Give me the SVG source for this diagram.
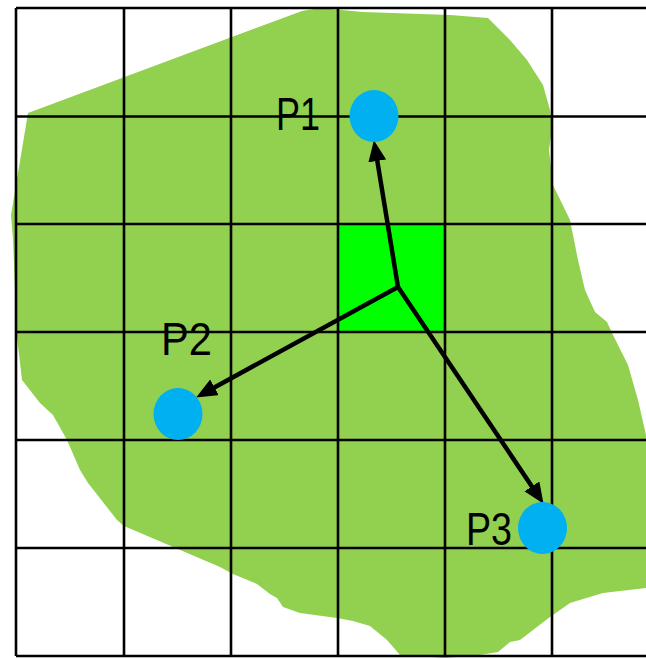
<svg xmlns="http://www.w3.org/2000/svg" width="646" height="659" viewBox="0 0 646 659">
  <style>
    .grid line { stroke: #000; stroke-width: 2.6; }
    .arrow { stroke: #000; stroke-width: 4.5; stroke-linecap: round; fill: none; marker-end: url(#ah); }
    .pt { fill: #00B0F0; }
    .lbl { font-family: "Liberation Sans", Arial, sans-serif; font-size: 46px; fill: #000; }
  </style>
  <defs>
    <marker id="ah" markerUnits="userSpaceOnUse" markerWidth="22" markerHeight="18" viewBox="0 0 22 18" refX="8" refY="9" orient="auto">
      <path d="M0,0 L21,9 L0,18 z" fill="#000"/>
    </marker>
  </defs>
  <rect width="646" height="659" fill="#fff"/>
  <g id="region">
    <polygon fill="#92D050" points="28,113 302,11 320,8 363,12 450,15 488,18 510,40 527,60 543,85 550,110 552,130 549,150 553,185 570,220 578,260 585,290 595,312 607,322 613,335 628,365 638,400 646,435 646,588 603,593 570,603 550,617 520,640 510,642 498,652 480,655 445,658 400,655 387,640 370,626 353,621 337,618 300,613 283,607 277,598 270,594 257,584 233,574 220,567 124,526 117,520 88,483 80,470 67,440 53,415 40,403 22,380 17,337 13,240 11,215"/>
  </g>
  <g id="cell">
    <rect x="338" y="224" width="107" height="108" fill="#00FF00"/>
  </g>
  <g id="grid" class="grid">
    <line x1="16" y1="8" x2="16" y2="656"/>
    <line x1="124" y1="8" x2="124" y2="656"/>
    <line x1="231" y1="8" x2="231" y2="656"/>
    <line x1="338" y1="8" x2="338" y2="656"/>
    <line x1="445" y1="8" x2="445" y2="656"/>
    <line x1="552" y1="8" x2="552" y2="656"/>
    <line x1="16" y1="8" x2="646" y2="8"/>
    <line x1="16" y1="116.5" x2="646" y2="116.5"/>
    <line x1="16" y1="224" x2="646" y2="224"/>
    <line x1="16" y1="332" x2="646" y2="332"/>
    <line x1="16" y1="440" x2="646" y2="440"/>
    <line x1="16" y1="548" x2="646" y2="548"/>
    <line x1="16" y1="656" x2="646" y2="656"/>
  </g>
  <g id="connectors">
    <line class="arrow" x1="398" y1="287" x2="376" y2="153"/>
    <line class="arrow" x1="398" y1="287" x2="207.5" y2="391.2"/>
    <line class="arrow" x1="398" y1="287" x2="536.3" y2="493"/>
  </g>
  <g id="P1">
    <ellipse class="pt" cx="374" cy="116" rx="24.5" ry="26"/>
    <text class="lbl" x="276" y="130" textLength="44" lengthAdjust="spacingAndGlyphs">P1</text>
  </g>
  <g id="P2">
    <ellipse class="pt" cx="178" cy="414" rx="24.5" ry="26"/>
    <text class="lbl" x="161" y="355" textLength="51" lengthAdjust="spacingAndGlyphs">P2</text>
  </g>
  <g id="P3">
    <ellipse class="pt" cx="542.5" cy="528" rx="24.5" ry="26"/>
    <text class="lbl" x="466" y="545" textLength="46" lengthAdjust="spacingAndGlyphs">P3</text>
  </g>
</svg>
